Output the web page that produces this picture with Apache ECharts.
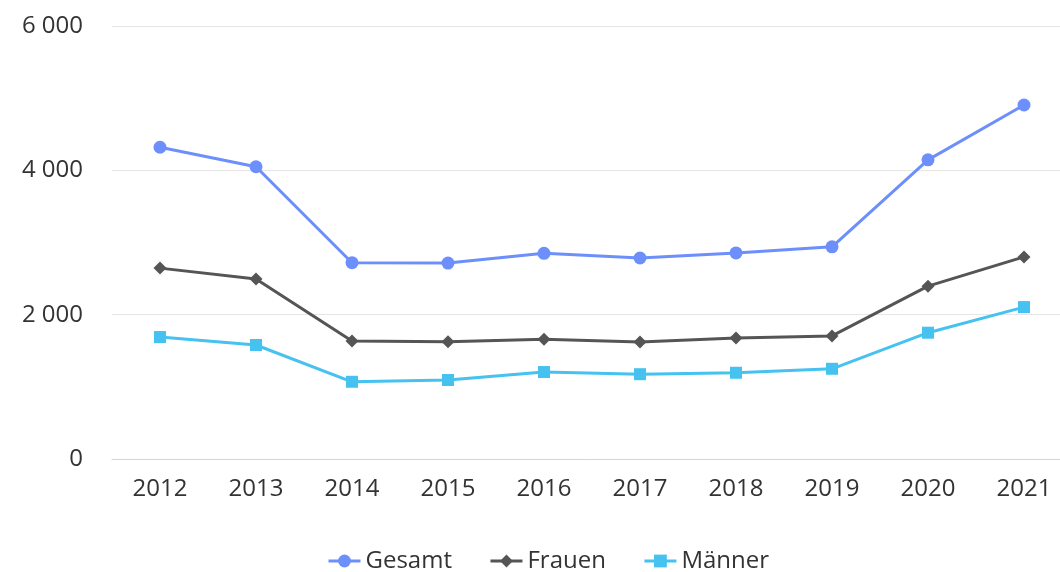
<!DOCTYPE html>
<html>
<head>
<meta charset="utf-8">
<script src="https://cdn.jsdelivr.net/npm/echarts@6/dist/echarts.min.js"></script>
<style>
  html, body { margin: 0; padding: 0; background: #fff; }
  #chart { width: 1060px; height: 572px; }
</style>
</head>
<body>
<div id="chart"></div>
<script>
const years = ['2012', '2013', '2014', '2015', '2016', '2017', '2018', '2019', '2020', '2021']
const gesamt = [4320, 4050, 2720, 2715, 2850, 2785, 2855, 2940, 4145, 4905]
const frauen = [2645, 2495, 1635, 1625, 1660, 1620, 1675, 1705, 2395, 2800]
const maenner = [1690, 1580, 1070, 1095, 1205, 1175, 1195, 1250, 1750, 2105]
const yTicks = [0, 2000, 4000, 6000]

const fontFamily = '"Open Sans", sans-serif'

const chart = echarts.init(document.getElementById('chart'))

function fmt(v) {
  return String(v).replace(/\B(?=(\d{3})+(?!\d))/g, ' ')
}

chart.setOption({
  animation: false,
  textStyle: { fontFamily: fontFamily },
  grid: { left: 112, width: 960, top: 26, bottom: 113, outerBoundsMode: 'none' },
  legend: {
    top: 544,
    left: 322,
    itemGap: 37,
    itemWidth: 32,
    itemHeight: 16,
    lineStyle: { width: 3 },
    textStyle: { fontSize: 24, color: '#333', fontFamily: fontFamily },
    data: ['Gesamt', 'Frauen', 'Männer']
  },
  xAxis: {
    type: 'category',
    data: years,
    boundaryGap: true,
    axisTick: { show: false },
    axisLine: { lineStyle: { color: '#ccd6eb', width: 1 } },
    axisLabel: { fontSize: 24, color: '#333', margin: 18 }
  },
  yAxis: {
    type: 'value',
    min: yTicks[0],
    max: yTicks[yTicks.length - 1],
    interval: 2000,
    axisLine: { show: false },
    axisTick: { show: false },
    splitLine: { lineStyle: { color: '#e6e6e6' } },
    axisLabel: { fontSize: 24, color: '#333', margin: 29, formatter: fmt }
  },
  series: [
    {
      name: 'Gesamt',
      type: 'line',
      data: gesamt,
      symbol: 'circle',
      symbolSize: 13,
      color: '#6d8ffc',
      lineStyle: { width: 3 }
    },
    {
      name: 'Frauen',
      type: 'line',
      data: frauen,
      symbol: 'diamond',
      symbolSize: 13,
      color: '#555555',
      lineStyle: { width: 3 }
    },
    {
      name: 'Männer',
      type: 'line',
      data: maenner,
      symbol: 'rect',
      symbolSize: 12,
      color: '#45c2ef',
      lineStyle: { width: 3 }
    }
  ]
})
</script>
</body>
</html>
